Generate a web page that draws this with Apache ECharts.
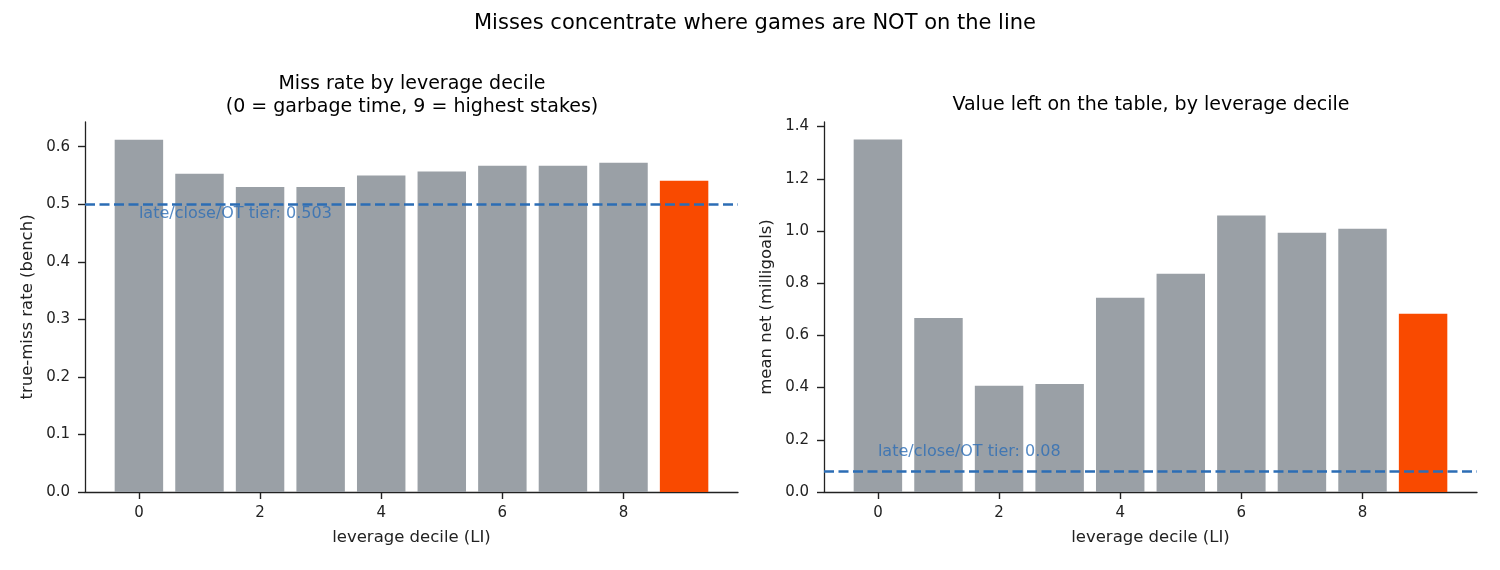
<!DOCTYPE html>
<html>
<head>
<meta charset="UTF-8">
<title>Misses concentrate where games are NOT on the line</title>
<script src="https://cdn.jsdelivr.net/npm/echarts@6/dist/echarts.min.js"></script>
<style>
  html, body { margin: 0; padding: 0; background: #fff; }
  #main { width: 1500px; height: 570px; }
</style>
</head>
<body>
<div id="main"></div>
<script type="text/javascript">
// data
var deciles = [0, 1, 2, 3, 4, 5, 6, 7, 8, 9];
var missRate = [0.612, 0.553, 0.530, 0.530, 0.550, 0.557, 0.567, 0.567, 0.572, 0.541];
var meanNet = [1.350, 0.667, 0.407, 0.414, 0.744, 0.836, 1.059, 0.993, 1.009, 0.683];
var missTier = 0.503;
var netTier = 0.08;
var xTicks = [0, 2, 4, 6, 8];
var missTicks = [0, 0.1, 0.2, 0.3, 0.4, 0.5, 0.6];
var netTicks = [0, 0.2, 0.4, 0.6, 0.8, 1.0, 1.2, 1.4];

var grey = '#9aa0a6';
var orange = '#f94a00';
var blue = '#2c6db5';
var ink = '#222';
var font = 'DejaVu Sans';

// matplotlib style limits: 5% margin around the bars
var xMin = -0.89, xMax = 9.89;
var gridW = 653;
var barW = 0.8 * gridW / (xMax - xMin);

var myChart = echarts.init(document.getElementById('main'));

function pairs(vals) {
  return deciles.map(function (d, i) { return [d, vals[i]]; });
}

function xAxisCfg(idx) {
  return {
    gridIndex: idx, type: 'value', min: xMin, max: xMax,
    name: 'leverage decile (LI)', nameLocation: 'middle', nameGap: 37,
    nameTextStyle: { fontFamily: font, fontSize: 16.5, color: ink },
    axisLine: { show: true, onZero: false, lineStyle: { color: ink, width: 1.3 } },
    axisTick: { show: true, length: 7, customValues: xTicks, lineStyle: { color: ink, width: 1.4 } },
    axisLabel: { customValues: xTicks, fontFamily: font, fontSize: 15, color: ink, margin: 14 },
    splitLine: { show: false }
  };
}

function yAxisCfg(idx, name, max, ticks) {
  return {
    gridIndex: idx, type: 'value', min: 0, max: max,
    name: name, nameLocation: 'middle', nameGap: 49, nameRotate: 90,
    nameTextStyle: { fontFamily: font, fontSize: 16.5, color: ink },
    axisLine: { show: true, onZero: false, lineStyle: { color: ink, width: 1.3 } },
    axisTick: { show: true, length: 7, customValues: ticks, lineStyle: { color: ink, width: 1.4 } },
    axisLabel: {
      customValues: ticks, fontFamily: font, fontSize: 15, color: ink, margin: 15,
      formatter: function (v) { return v.toFixed(1); }
    },
    splitLine: { show: false }
  };
}

function barSeries(idx, vals, tier) {
  return {
    type: 'bar', xAxisIndex: idx, yAxisIndex: idx,
    barWidth: barW, data: pairs(vals),
    itemStyle: {
      color: function (p) { return p.dataIndex === deciles.length - 1 ? orange : grey; }
    },
    markLine: {
      silent: true, symbol: 'none', animation: false,
      label: { show: false },
      lineStyle: { color: blue, width: 2.5, type: [10, 4.5] },
      data: [{ yAxis: tier }]
    },
    animation: false
  };
}

function tierLabel(idx, x, y, text) {
  return {
    type: 'scatter', xAxisIndex: idx, yAxisIndex: idx,
    symbolSize: 0, data: [[x, y]], silent: true, z: 10,
    label: {
      show: true, position: 'right', distance: 0,
      formatter: text, fontFamily: font, fontSize: 16, color: blue
    },
    animation: false
  };
}

var option = {
  backgroundColor: '#fff',
  title: [
    { text: 'Misses concentrate where games are NOT on the line', left: 750, top: 8, textAlign: 'center',
      textStyle: { fontFamily: font, fontSize: 21, fontWeight: 'normal', color: '#000' } },
    { text: 'Miss rate by leverage decile\n(0 = garbage time, 9 = highest stakes)', left: 407, top: 68, textAlign: 'center',
      textStyle: { fontFamily: font, fontSize: 19, fontWeight: 'normal', color: '#000', lineHeight: 23 } },
    { text: 'Value left on the table, by leverage decile', left: 1146, top: 91, textAlign: 'center',
      textStyle: { fontFamily: font, fontSize: 19, fontWeight: 'normal', color: '#000' } }
  ],
  grid: [
    { left: 85, top: 122, width: gridW, height: 370 },
    { left: 824, top: 122, width: gridW, height: 370 }
  ],
  xAxis: [xAxisCfg(0), xAxisCfg(1)],
  yAxis: [
    yAxisCfg(0, 'true-miss rate (bench)', 0.643, missTicks),
    yAxisCfg(1, 'mean net (milligoals)', 1.4175, netTicks)
  ],
  series: [
    barSeries(0, missRate, missTier),
    tierLabel(0, 0, 0.483, 'late/close/OT tier: 0.503'),
    barSeries(1, meanNet, netTier),
    tierLabel(1, 0, 0.153, 'late/close/OT tier: 0.08')
  ]
};

myChart.setOption(option);
</script>
</body>
</html>
